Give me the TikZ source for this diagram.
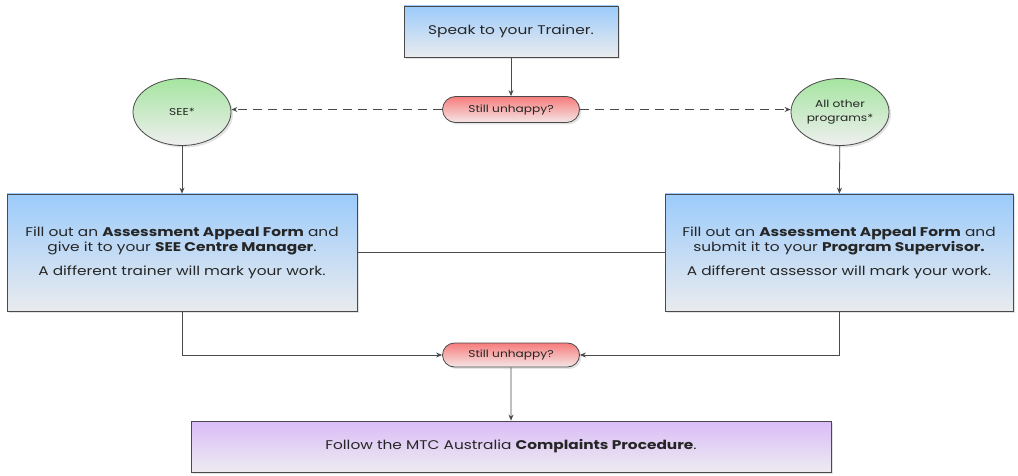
\documentclass[tikz,border=0pt]{standalone}
\usepackage{fontspec}
\setmainfont[FakeStretch=1.22]{Poppins}
\usetikzlibrary{shapes.geometric,shapes.misc,shadows,arrows.meta}
\definecolor{bordc}{HTML}{4A4A4A}
\definecolor{bluetop}{HTML}{9CCBFB}
\definecolor{bluebot}{HTML}{E9EBEE}
\definecolor{greentop}{HTML}{A5E5A0}
\definecolor{greenbot}{HTML}{EFEFEF}
\definecolor{redtop}{HTML}{F77C7C}
\definecolor{redbot}{HTML}{F4E6E6}
\definecolor{purptop}{HTML}{DABCF7}
\definecolor{purpbot}{HTML}{EDEBF0}
\tikzset{
  shad/.style={drop shadow={opacity=0.22,shadow xshift=2pt,shadow yshift=-2pt}},
  mainfont/.style={font=\fontsize{12.6}{15}\selectfont,text=black!85},
  bluebox/.style={draw=bordc,line width=0.8pt,top color=bluetop,bottom color=bluebot,shad,
    inner sep=0pt,align=center,mainfont},
  purpbox/.style={draw=bordc,line width=0.8pt,top color=purptop,bottom color=purpbot,shad,
    inner sep=0pt,align=center,mainfont},
  decision/.style={draw=bordc,line width=0.8pt,top color=redtop,bottom color=redbot,shad,
    rounded rectangle,minimum width=137pt,minimum height=26pt,inner sep=0pt,
    font=\fontsize{10}{12}\selectfont,text=black!85},
  prog/.style={draw=bordc,line width=0.8pt,ellipse,top color=greentop,bottom color=greenbot,shad,
    minimum width=98pt,minimum height=67pt,inner sep=0pt,align=center,
    font=\fontsize{10}{13.5}\selectfont,text=black!85},
  conn/.style={draw=bordc,line width=0.8pt},
  arr/.style={conn,-{Stealth[length=6pt,width=5pt]}},
  darr/.style={arr,dash pattern=on 9pt off 6pt},
}
\begin{document}
\begin{tikzpicture}[x=1pt,y=-1pt]
\useasboundingbox (0,0) rectangle (1018,476);
\node[bluebox,minimum width=214pt,minimum height=51pt] (trainer) at (511,31.5) {Speak to your Trainer.};
\node[decision] (q1) at (511,109.5) {Still unhappy?};
\node[prog] (see) at (182,112) {SEE*};
\node[prog] (other) at (840,112) {All other\\programs*};
\node[bluebox,minimum width=350pt,minimum height=117pt] (left) at (182,252.5)
  {Fill out an \textbf{Assessment Appeal Form} and\\give it to your \textbf{SEE Centre Manager}.\\[9pt]A different trainer will mark your work.};
\node[bluebox,minimum width=348pt,minimum height=117pt] (right) at (839,252.5)
  {Fill out an \textbf{Assessment Appeal Form} and\\submit it to your \textbf{Program Supervisor.}\\[9pt]A different assessor will mark your work.};
\node[decision,minimum height=24pt] (q2) at (511,355) {Still unhappy?};
\node[purpbox,minimum width=640pt,minimum height=51pt] (final) at (511,446.5)
  {Follow the MTC Australia \textbf{Complaints Procedure}.};

\draw[arr] (trainer) -- (q1);
\draw[darr] (q1.west) -- (q1.west -| see.east);
\draw[darr] (q1.east) -- (q1.east -| other.west);
\draw[arr] (see) -- (left);
\draw[arr] (other) -- (right);
\draw[conn] (left.east) -- (right.west);
\draw[arr] (left.south) |- (q2.west);
\draw[arr] (right.south) |- (q2.east);
\draw[arr] (q2) -- (final);
\end{tikzpicture}
\end{document}
